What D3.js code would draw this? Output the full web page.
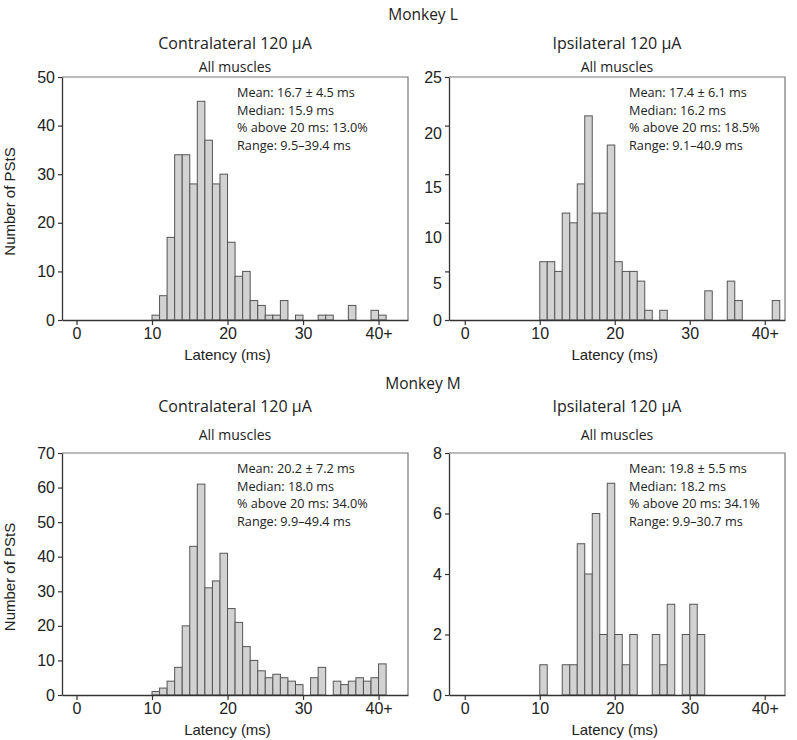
<!DOCTYPE html>
<html><head><meta charset="utf-8">
<script src="https://cdn.jsdelivr.net/npm/d3@7"></script>
<style>body{margin:0;background:#fff}</style>
</head><body><svg id="c" width="797" height="740"></svg>
<script>
// ---- data ----
const firstBin = 10;               // left edge (ms) of the first bin, 1-ms bins
const xTickValues = [0, 10, 20, 30, 40];
const xTickLabels = ["0", "10", "20", "30", "40+"];

const monkeyLabels = ["Monkey L", "Monkey M"];
const conditionTitles = ["Contralateral 120 µA", "Ipsilateral 120 µA"];
const subTitle = "All muscles";

const countsLContra = [1,5,17,34,34,28,45,37,28,30,16,9,10,4,3,1,1,4,0,1,0,0,1,1,0,0,3,0,0,2,1];
const countsLIpsi   = [6,6,5,11,10,14,21,11,11,18,6,5,5,4,1,0,1,0,0,0,0,0,3,0,0,4,2,0,0,0,0,2];
const countsMContra = [1,2,4,8,20,43,61,31,33,41,25,21,14,10,7,5,6,5,4,3,0,5,8,0,4,3,4,5,4,5,9];
const countsMIpsi   = [1,0,0,1,1,5,4,6,2,7,2,1,2,0,0,2,1,3,0,2,3,2];

const yTicksLContra = [0,10,20,30,40,50];
const yTicksLIpsi   = [0,5,10,15,20,25];
const yTicksMContra = [0,10,20,30,40,50,60,70];
const yTicksMIpsi   = [0,2,4,6,8];

const statsLContra = ["Mean: 16.7 ± 4.5 ms","Median: 15.9 ms","% above 20 ms: 13.0%","Range: 9.5–39.4 ms"];
const statsLIpsi   = ["Mean: 17.4 ± 6.1 ms","Median: 16.2 ms","% above 20 ms: 18.5%","Range: 9.1–40.9 ms"];
const statsMContra = ["Mean: 20.2 ± 7.2 ms","Median: 18.0 ms","% above 20 ms: 34.0%","Range: 9.9–49.4 ms"];
const statsMIpsi   = ["Mean: 19.8 ± 5.5 ms","Median: 18.2 ms","% above 20 ms: 34.1%","Range: 9.9–30.7 ms"];

const yLabel = "Number of PStS";
const xLabel = "Latency (ms)";

// ---- layout ----
const svg = d3.select("#c");
const titleFont = "'Open Sans', 'Noto Sans', sans-serif";
const axisFont = "'Liberation Sans', Arial, sans-serif";

// labelExp: the original figure's tick labels on the top-right panel sit slightly
// off the linear positions; a mild power mapping reproduces their placement.
const panels = [
  {counts: countsLContra, yTicks: yTicksLContra, stats: statsLContra, title: conditionTitles[0],
   x0: 62, x1: 408, y0: 77, y1: 320, xDom: [-1.92, 43.9], statX: 237, yLab: true, labelExp: 1},
  {counts: countsLIpsi, yTicks: yTicksLIpsi, stats: statsLIpsi, title: conditionTitles[1],
   x0: 449, x1: 785, y0: 77, y1: 320, xDom: [-2.1, 42.7], statX: 629, yLab: false, labelExp: 1.18},
  {counts: countsMContra, yTicks: yTicksMContra, stats: statsMContra, title: conditionTitles[0],
   x0: 62, x1: 408, y0: 453, y1: 695, xDom: [-1.92, 43.9], statX: 237, yLab: true, labelExp: 1},
  {counts: countsMIpsi, yTicks: yTicksMIpsi, stats: statsMIpsi, title: conditionTitles[1],
   x0: 449, x1: 785, y0: 453, y1: 695, xDom: [-2.1, 42.7], statX: 629, yLab: false, labelExp: 1}
];

svg.append("text").attr("x", 423).attr("y", 20).attr("text-anchor", "middle")
  .style("font-family", titleFont).style("font-size", "15.5px").attr("fill", "#222").text(monkeyLabels[0]);
svg.append("text").attr("x", 423).attr("y", 389).attr("text-anchor", "middle")
  .style("font-family", titleFont).style("font-size", "15.5px").attr("fill", "#222").text(monkeyLabels[1]);

panels.forEach((p, i) => {
  const top = i < 2;
  const x = d3.scaleLinear().domain(p.xDom).range([p.x0, p.x1]);
  const yMax = p.yTicks[p.yTicks.length - 1];
  const y = d3.scaleLinear().domain([0, yMax]).range([p.y1, p.y0]);
  const yLabPos = d3.scalePow().exponent(p.labelExp).domain([0, yMax]).range([p.y1, p.y0]);
  const g = svg.append("g");
  const cx = (p.x0 + p.x1) / 2;

  // titles
  g.append("text").attr("x", cx).attr("y", p.y0 - (top ? 28 : 41)).attr("text-anchor", "middle")
    .style("font-family", titleFont).style("font-size", "16px").attr("fill", "#222").text(p.title);
  g.append("text").attr("x", cx).attr("y", p.y0 - 5 - (top ? 0 : 8)).attr("text-anchor", "middle")
    .style("font-family", titleFont).style("font-size", "14px").attr("fill", "#222").text(subTitle);

  // frame top/right
  g.append("path").attr("d", `M${p.x0},${p.y0}H${p.x1}V${p.y1}`)
    .attr("fill", "none").attr("stroke", "#777").attr("stroke-width", 1.2);

  // bars
  g.selectAll("rect.bar").data(p.counts.map((c, k) => ({b: firstBin + k, c})).filter(d => d.c > 0))
    .join("rect").attr("class", "bar")
    .attr("x", d => x(d.b)).attr("width", d => x(d.b + 1) - x(d.b))
    .attr("y", d => y(d.c)).attr("height", d => y(0) - y(d.c))
    .attr("fill", "#d2d2d2").attr("stroke", "#555").attr("stroke-width", 1);

  // axes
  const xa = g.append("g").attr("transform", `translate(0,${p.y1})`)
    .call(d3.axisBottom(x).tickValues(xTickValues).tickFormat((d, k) => xTickLabels[k]).tickSize(5).tickSizeOuter(0).tickPadding(3));
  const ya = g.append("g").attr("transform", `translate(${p.x0},0)`)
    .call(d3.axisLeft(y).tickValues(p.yTicks).tickSize(4).tickSizeOuter(0).tickPadding(3));
  ya.selectAll(".tick text").attr("y", d => yLabPos(d) - y(d));
  [xa, ya].forEach(a => {
    a.select(".domain").attr("stroke", "#333").attr("stroke-width", 1.3);
    a.selectAll(".tick line").attr("stroke", "#333").attr("stroke-width", 1.2);
    a.selectAll("text").style("font-family", axisFont).style("font-size", "16px").attr("fill", "#222");
  });

  // stats
  p.stats.forEach((s, k) => {
    g.append("text").attr("x", p.statX).attr("y", p.y0 + 20 + k * 17.6)
      .style("font-family", titleFont).style("font-size", "12.7px").attr("fill", "#222").text(s);
  });

  // x label
  g.append("text").attr("x", x(20)).attr("y", p.y1 + 40).attr("text-anchor", "middle")
    .style("font-family", axisFont).style("font-size", "15px").attr("fill", "#222").text(xLabel);

  if (p.yLab) {
    g.append("text").attr("transform", `translate(15,${(p.y0 + p.y1) / 2 + 3}) rotate(-90)`)
      .attr("text-anchor", "middle")
      .style("font-family", axisFont).style("font-size", "15px").attr("fill", "#222").text(yLabel);
  }
});
</script></body></html>
